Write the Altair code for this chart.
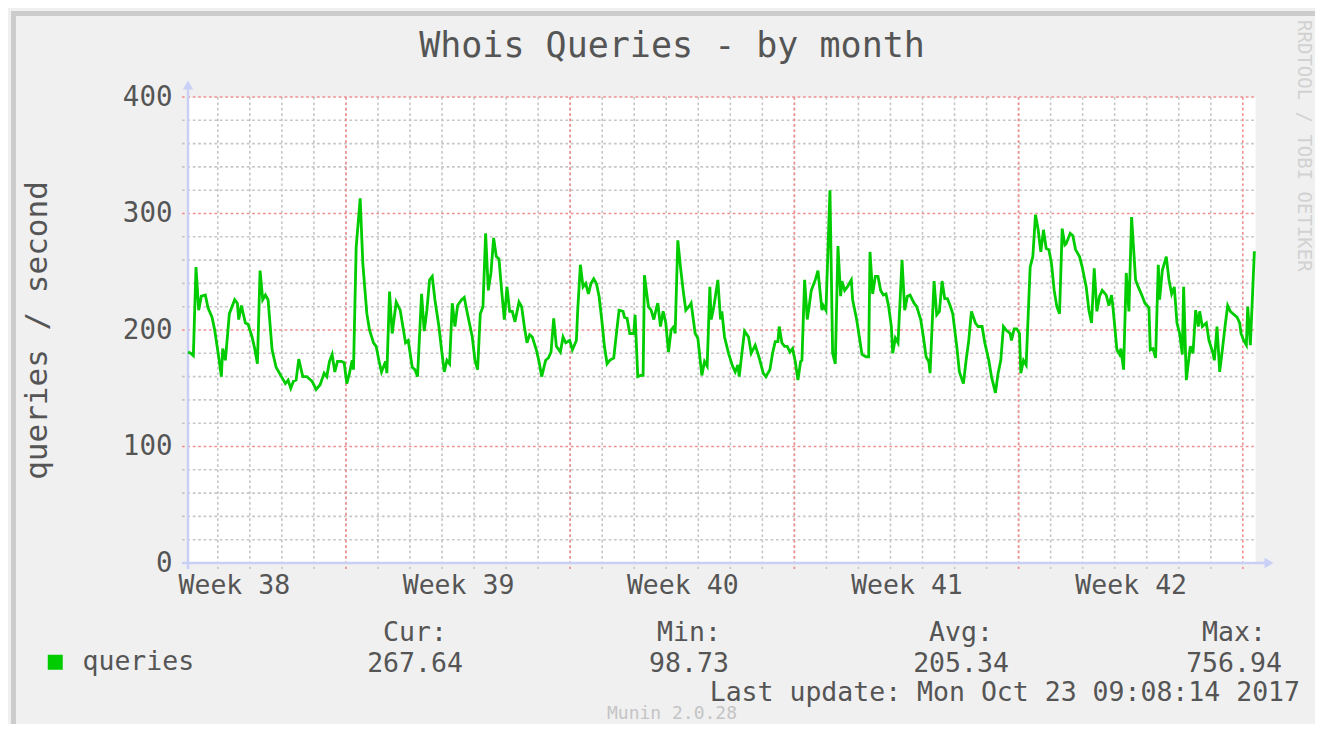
import altair as alt
import pandas as pd

# ---------------- data ----------------
# hours after the start of the graph window (2017-09-20 01:40)
hours = [0, 2, 4, 6, 8, 10, 13, 15, 18, 20, 23, 25, 26, 28, 31, 35, 37, 38, 40, 43, 45, 48, 50, 52, 54, 56, 58, 60,
         63, 66, 70, 73, 75, 77, 79, 81, 83, 86, 89, 93, 96, 99, 102, 104, 106, 108, 110, 112, 115, 117, 119, 121,
         123, 124, 126, 129, 131, 134, 136, 139, 141, 143, 145, 148, 149, 151, 153,
         156, 159, 161, 163, 165, 168, 170, 172, 175, 177, 179, 181, 183, 185, 188, 190, 192, 194, 196, 198, 200,
         202, 205, 207, 209, 213, 215, 217, 219, 221, 223, 225, 227, 229, 231, 233, 235, 237, 239, 241, 243, 245,
         248, 250, 252, 254, 256, 258, 261, 263, 265, 268, 270, 272, 274, 276, 279, 281, 283, 286, 288, 291, 292,
         294, 296, 298, 300, 302, 304, 306, 308, 310, 312, 314, 316,
         319, 321, 323, 326, 327, 329, 331, 334, 335, 337, 339, 341, 342, 345, 347, 349, 351, 352, 354, 356, 358,
         360, 362, 364, 365, 367, 369, 371, 373, 376, 377, 380, 382, 385, 387, 389, 391, 392, 394, 397, 399, 400,
         402, 405, 408, 410, 412, 413, 415, 417, 420, 422, 425, 428, 431, 433, 436, 438, 440, 442, 443, 445, 447,
         449, 451, 453, 455, 457, 459, 460, 462, 464, 465, 467, 470, 472,
         475, 476, 478, 481, 483, 485, 487, 489, 490, 492, 494, 497, 498, 501, 503, 505, 508, 510, 511, 513, 515,
         517, 519, 521, 523, 525, 527, 528, 530, 532, 535, 537, 539, 541, 544, 546, 549, 551, 553, 555, 556, 559,
         561, 563, 565, 567, 569, 571, 573, 576, 578, 581, 583, 585, 587, 590, 592, 595, 597, 600, 602, 605, 607,
         609, 611, 613, 616, 617, 619, 621, 623, 624, 626, 628,
         631, 633, 635, 637, 639, 641, 643, 645, 647, 649, 651, 653, 655, 657, 658, 661, 663, 665, 668, 670, 673,
         675, 677, 679, 681, 683, 685, 688, 690, 692, 693, 696, 698, 699, 701, 703, 705, 707, 710, 712, 715, 717,
         720, 721, 723, 725, 727, 728, 730, 733, 735, 737, 739, 741, 743, 745, 746, 748, 751, 753, 755, 757, 758,
         760, 763, 765, 768, 769, 771, 773, 775, 777, 779, 781, 783, 786, 788, 789, 791, 793, 794, 796, 799]

queries = [181, 180, 178, 254, 217, 229, 230, 219, 211, 200, 177, 160, 184, 174, 214, 226, 223, 209, 221, 206, 205,
           194, 184, 171, 251, 226, 230, 226, 183, 168, 160, 154, 157, 150, 156, 157, 175, 160, 160, 156, 149, 153,
           163, 160, 173, 179, 164, 173, 173, 172, 154, 163, 174, 166, 271, 313, 257, 214, 200, 189, 186, 174, 164,
           173, 163, 233, 197,
           224, 217, 203, 189, 191, 168, 166, 160, 231, 199, 217, 243, 246, 226, 203, 183, 164, 174, 171, 223, 203,
           221, 226, 228, 216, 194, 174, 166, 214, 220, 283, 234, 249, 279, 263, 261, 234, 209, 237, 216, 216, 207,
           224, 220, 203, 189, 196, 194, 183, 173, 160, 174, 176, 181, 210, 186, 181, 194, 189, 191, 183, 191, 217,
           256, 237, 240, 231, 240, 244, 240, 229, 209, 186, 171, 174,
           176, 197, 217, 216, 211, 210, 197, 197, 213, 160, 161, 161, 247, 220, 217, 209, 219, 223, 203, 216, 206,
           181, 200, 203, 197, 277, 254, 234, 217, 221, 223, 197, 193, 161, 173, 169, 237, 209, 220, 243, 209, 216,
           194, 180, 169, 164, 170, 160, 180, 199, 194, 180, 187, 176, 163, 160, 166, 180, 190, 190, 203, 189, 186,
           186, 181, 184, 173, 157, 173, 174, 243, 209, 217, 234, 243, 251,
           217, 221, 217, 320, 180, 171, 272, 229, 242, 234, 237, 243, 226, 209, 194, 179, 177, 177, 267, 231, 246,
           246, 234, 230, 231, 220, 203, 180, 193, 189, 260, 217, 229, 230, 223, 220, 209, 194, 177, 173, 163, 242,
           213, 216, 242, 227, 227, 221, 214, 186, 164, 154, 174, 191, 216, 206, 203, 203, 189, 174, 160, 146, 163,
           174, 203, 200, 197, 191, 201, 201, 197, 163, 174, 170,
           254, 263, 299, 286, 267, 286, 270, 269, 257, 234, 220, 214, 287, 273, 274, 283, 281, 269, 263, 254, 237,
           217, 206, 253, 216, 229, 234, 230, 221, 230, 220, 183, 179, 184, 166, 249, 216, 297, 243, 237, 229, 223,
           219, 183, 184, 176, 256, 226, 251, 263, 243, 231, 237, 206, 197, 179, 237, 157, 186, 180, 217, 203, 216,
           203, 206, 191, 180, 174, 203, 164, 183, 203, 221, 216, 214, 211, 206, 197, 191, 187, 220, 187, 267.64]

series_name = "queries"
week_labels = ["Week 38", "Week 39", "Week 40", "Week 41", "Week 42"]
y_ticks = [0, 100, 200, 300, 400]
stat_names = ["Cur:", "Min:", "Avg:", "Max:"]
stat_values = ["267.64", "98.73", "205.34", "756.94"]
chart_title = "Whois Queries - by month"
y_title = "queries / second"
last_update = "Last update: Mon Oct 23 09:08:14 2017"
watermark = "RRDTOOL / TOBI OETIKER"
generator = "Munin 2.0.28"

# ---------------- build ----------------
W, H = 1067, 466
FONT = "DejaVu Sans Mono"
TXT = "#555555"
GREEN = "#00cc00"
AXIS_C = "#c9d0f6"
GRID_C = "#c6c6c6"
MGRID_C = "#ef8f8f"
FS = 26.5

start = pd.Timestamp("2017-09-20 01:40")
df = pd.DataFrame({
    "time": start + pd.to_timedelta(hours, unit="h"),
    "value": queries,
    "series": series_name,
})

days = pd.DataFrame({"t": pd.date_range("2017-09-21", "2017-10-22", freq="D")})
weeks = pd.DataFrame({"t": pd.date_range("2017-09-25", "2017-10-23", freq="7D")})
minor_y = pd.DataFrame({"v": [v for v in range(20, 400, 20) if v % 100]})
major_y = pd.DataFrame({"v": [100, 200, 300, 400]})

x_scale = alt.Scale(domain=[alt.DateTime(year=2017, month=9, date=20, hours=1, minutes=40),
                            alt.DateTime(year=2017, month=10, date=23, hours=9, minutes=8)])
y_scale = alt.Scale(domain=[0, 400], nice=False)

week_mid = [alt.DateTime(year=2017, month=9, date=21, hours=12),
            alt.DateTime(year=2017, month=9, date=28, hours=12),
            alt.DateTime(year=2017, month=10, date=5, hours=12),
            alt.DateTime(year=2017, month=10, date=12, hours=12),
            alt.DateTime(year=2017, month=10, date=19, hours=12)]
label_expr = ("[" + ",".join("'%s'" % w for w in week_labels) + "]"
              "[round((datum.value - datetime(2017, 8, 21, 12, 0)) / 604800000)]")

x_axis = alt.Axis(values=week_mid, labelExpr=label_expr, grid=False, ticks=False, domain=False,
                  labelFont=FONT, labelFontSize=FS, labelColor=TXT, labelPadding=9,
                  labelAngle=0, labelFlush=False, labelOverlap=False, title=None)
y_axis = alt.Axis(values=y_ticks, grid=False, ticks=False, domain=False,
                  labelFont=FONT, labelFontSize=27.5, labelColor=TXT, labelPadding=16,
                  title=y_title, titleFont=FONT, titleFontSize=31, titleFontWeight="normal",
                  titleColor=TXT, titleX=-151, titleY=H / 2, titleAngle=270,
                  titleBaseline="middle", titleAlign="center")

one = alt.Data(values=[{}])


def hgrid(frame, color):
    return alt.Chart(frame).mark_rule(color=color, strokeWidth=1.6, strokeDash=[2.7, 2.7]).encode(
        y=alt.Y("v:Q", scale=y_scale, axis=y_axis),
        x=alt.value(-6), x2=alt.value(W))


def vgrid(frame, color):
    return alt.Chart(frame).mark_rule(color=color, strokeWidth=1.6, strokeDash=[2.7, 2.7]).encode(
        x=alt.X("t:T", scale=x_scale, axis=x_axis),
        y=alt.value(0), y2=alt.value(H + 6))


def label(text, x, y, size=FS, color=TXT, align="center", baseline="alphabetic", angle=0):
    return alt.Chart(one).mark_text(text=text, font=FONT, fontSize=size, color=color, align=align,
                                    baseline=baseline, angle=angle).encode(
        x=alt.value(x), y=alt.value(y))


layers = [
    # frame border (top / left)
    alt.Chart(one).mark_rule(color="#cccccc", strokeWidth=5).encode(
        x=alt.value(-174.5), y=alt.value(-86), y2=alt.value(627)),
    alt.Chart(one).mark_rule(color="#cccccc", strokeWidth=5).encode(
        y=alt.value(-83.5), x=alt.value(-177), x2=alt.value(W + 60)),
    hgrid(minor_y, GRID_C),
    vgrid(days, GRID_C),
    hgrid(major_y, MGRID_C),
    vgrid(weeks, MGRID_C),
    # axis lines + arrows
    alt.Chart(one).mark_rule(color=AXIS_C, strokeWidth=2.5).encode(
        x=alt.value(-6), x2=alt.value(W + 10), y=alt.value(H)),
    alt.Chart(one).mark_rule(color=AXIS_C, strokeWidth=2.5).encode(
        x=alt.value(0), y=alt.value(H + 6), y2=alt.value(-8)),
    alt.Chart(one).mark_point(shape="triangle-up", filled=True, color=AXIS_C, size=110, opacity=1).encode(
        x=alt.value(0), y=alt.value(-12)),
    alt.Chart(one).mark_point(shape="triangle-right", filled=True, color=AXIS_C, size=110, opacity=1).encode(
        x=alt.value(W + 14), y=alt.value(H)),
    # data line
    alt.Chart(df).mark_line(strokeWidth=2.8, interpolate="linear").encode(
        x=alt.X("time:T", scale=x_scale, axis=x_axis),
        y=alt.Y("value:Q", scale=y_scale, axis=y_axis),
        color=alt.Color("series:N", scale=alt.Scale(domain=[series_name], range=[GREEN]),
                        legend=alt.Legend(title=None, orient="none", legendX=-146, legendY=552,
                                          symbolType="square", symbolSize=225, symbolFillColor=GREEN,
                                          symbolStrokeColor=GREEN, symbolStrokeWidth=0, symbolOpacity=1,
                                          labelFont=FONT, labelFontSize=FS, labelColor=TXT,
                                          labelOffset=14, padding=0)),
    ),
    # title
    label(chart_title, 484, -40, size=35),
]

stat_x = [227, 501, 773, 1046]
for name, val, sx in zip(stat_names, stat_values, stat_x):
    layers.append(label(name, sx, 544))
    layers.append(label(val, sx, 575))
layers.append(label(last_update, 1112, 604, align="right"))
layers.append(label(generator, 484, 622, size=18, color="#c4c4c4"))
layers.append(label(watermark, 1116, -77, size=19, color="#d2d2d2", align="left", baseline="middle", angle=90))

chart = alt.layer(*layers).properties(
    width=W, height=H,
    padding={"left": 180, "top": 89, "right": 60, "bottom": 161},
    autosize=alt.AutoSizeParams(type="none"),
    background="#f0f0f0",
).configure_view(fill="white", stroke="transparent")

chart.save("out.html", embed_options={"renderer": "svg", "actions": False})
